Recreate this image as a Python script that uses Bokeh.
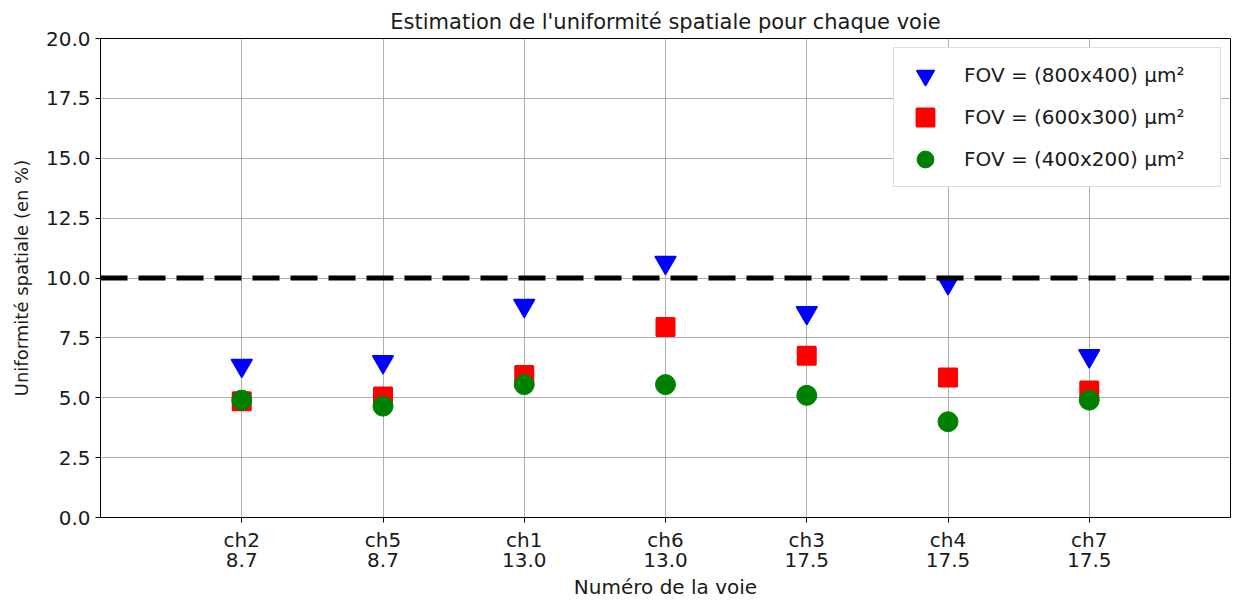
import numpy as np
from bokeh.plotting import figure
from bokeh.models import Span, Legend, LegendItem, FixedTicker, NumeralTickFormatter, Range1d
from bokeh.embed import file_html
from bokeh.resources import INLINE

channels = ["ch2", "ch5", "ch1", "ch6", "ch3", "ch4", "ch7"]
spacings = ["8.7", "8.7", "13.0", "13.0", "17.5", "17.5", "17.5"]
fov800 = [6.35, 6.5, 8.85, 10.65, 8.55, 9.8, 6.75]
fov600 = [4.85, 5.05, 5.95, 7.95, 6.75, 5.85, 5.3]
fov400 = [4.9, 4.65, 5.55, 5.55, 5.1, 4.0, 4.9]
threshold = 10.0
y_ticks = [0, 2.5, 5, 7.5, 10, 12.5, 15, 17.5, 20]

FONT = "DejaVu Sans"
xs = list(range(1, len(channels) + 1))

p = figure(width=1233, height=602, output_backend="svg", toolbar_location=None,
           x_range=Range1d(0, len(channels) + 1), y_range=Range1d(0, 20),
           min_border_left=100, min_border_right=3, min_border_top=38, min_border_bottom=82,
           title="Estimation de l'uniformité spatiale pour chaque voie")

p.title.text_font = FONT
p.title.text_font_size = "21px"
p.title.text_font_style = "normal"
p.title.align = "center"
p.title.text_color = "#1a1a1a"

p.outline_line_color = "#000000"
p.outline_line_width = 1

for ax in (p.xaxis[0], p.yaxis[0]):
    ax.axis_line_color = "#000000"
    ax.major_tick_line_color = "#000000"
    ax.major_tick_out = 5
    ax.major_tick_in = 0
    ax.minor_tick_line_color = None
    ax.major_label_text_font = FONT
    ax.major_label_text_font_size = "20px"
    ax.major_label_text_color = "#1a1a1a"
    ax.axis_label_text_font = FONT
    ax.axis_label_text_font_style = "normal"
    ax.axis_label_text_color = "#1a1a1a"

p.xaxis.ticker = FixedTicker(ticks=xs)
p.xaxis.major_label_overrides = {x: f"{c}\n{s}" for x, c, s in zip(xs, channels, spacings)}
p.xaxis.major_label_text_line_height = 0.86
p.xaxis.axis_label = "Numéro de la voie"
p.xaxis.axis_label_text_font_size = "20px"
p.xaxis.axis_label_standoff = 0

p.yaxis.ticker = FixedTicker(ticks=y_ticks)
p.yaxis.formatter = NumeralTickFormatter(format="0.0")
p.yaxis.axis_label = "Uniformité spatiale (en %)"
p.yaxis.axis_label_text_font_size = "18px"
p.yaxis.axis_label_standoff = 11

p.grid.grid_line_color = "#b0b0b0"
p.grid.grid_line_width = 1
p.xgrid.ticker = FixedTicker(ticks=xs)
p.ygrid.ticker = FixedTicker(ticks=y_ticks)

span = Span(location=threshold, dimension="width", line_color="#000000",
            line_width=5, line_dash="27 11")
p.add_layout(span)

r1 = p.scatter(xs, fov800, marker="inverted_triangle", size=20, fill_color="#0000ff",
               line_color="#0000ff", line_width=2, line_join="round")
r2 = p.scatter(xs, fov600, marker="square", size=17, fill_color="#ff0000",
               line_color="#ff0000", line_width=3, line_join="round")
r3 = p.scatter(xs, fov400, marker="circle", size=20, fill_color="#008000",
               line_color="#008000", line_width=1)

legend = Legend(items=[
    LegendItem(label="FOV = (800x400) μm²", renderers=[r1]),
    LegendItem(label="FOV = (600x300) μm²", renderers=[r2]),
    LegendItem(label="FOV = (400x200) μm²", renderers=[r3]),
], location="top_right")
legend.label_text_font = FONT
legend.label_text_font_size = "20px"
legend.label_text_color = "#1a1a1a"
legend.glyph_width = 50
legend.glyph_height = 42
legend.label_height = 42
legend.label_width = 250
legend.spacing = 0
legend.padding = 6
legend.label_standoff = 14
legend.margin = 9
legend.border_line_color = "#bbbbbb"
legend.border_line_width = 1
legend.background_fill_alpha = 1.0
p.add_layout(legend)

open("out.html", "w").write(file_html(p, INLINE))
